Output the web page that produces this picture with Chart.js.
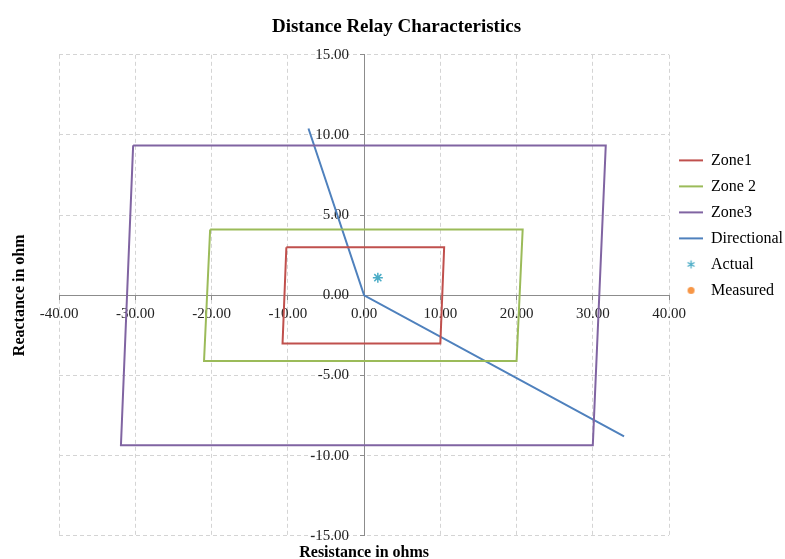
<!DOCTYPE html>
<html>
<head>
<meta charset="utf-8">
<script src="https://cdn.jsdelivr.net/npm/chart.js@4.4.0/dist/chart.umd.min.js"></script>
<style>
  body { margin: 0; background: #fff; }
</style>
</head>
<body>
<canvas id="myChart" width="785" height="559"></canvas>
<script>
// resistance (R) / reactance (X) pairs, ohms
var zone1R = [-10.2, 10.5, 10.0, -10.7, -10.2];
var zone1X = [3.0, 3.0, -3.0, -3.0, 3.0];
var zone2R = [-20.2, 20.8, 20.0, -21.0, -20.2];
var zone2X = [4.1, 4.1, -4.1, -4.1, 4.1];
var zone3R = [-30.3, 31.7, 30.0, -31.9, -30.3];
var zone3X = [9.35, 9.35, -9.35, -9.35, 9.35];
var dirR = [-7.3, 0, 34.1];
var dirX = [10.4, 0, -8.8];
var actualR = [1.8];
var actualX = [1.1];
var measuredR = [];
var measuredX = [];

var xTicks = [-40, -30, -20, -10, 0, 10, 20, 30, 40];
var yTicks = [-15, -10, -5, 0, 5, 10, 15];

function pts(r, x) {
    return r.map(function (v, i) { return {x: v, y: x[i]}; });
}

// legend marker images for the point series
function marker(kind, color) {
    var c = document.createElement('canvas');
    c.width = 11; c.height = 11;
    var g = c.getContext('2d');
    if (kind == 'dot') {
        g.fillStyle = color;
        g.beginPath(); g.arc(5.5, 5.5, 3.5, 0, Math.PI * 2); g.fill();
    } else {
        g.strokeStyle = color; g.lineWidth = 1.3;
        g.beginPath();
        g.moveTo(5.5, 1.5); g.lineTo(5.5, 9.5);
        g.moveTo(2, 3.5); g.lineTo(9, 7.5);
        g.moveTo(2, 7.5); g.lineTo(9, 3.5);
        g.stroke();
    }
    return c;
}

Chart.defaults.font.family = "'Liberation Serif', 'Times New Roman', serif";
Chart.defaults.color = '#222';

var lineSet = function (label, data, color) {
    return {label: label, data: data, borderColor: color, backgroundColor: color,
        showLine: true, fill: false, pointRadius: 0, borderWidth: 2, tension: 0,
        legendStyle: 'line'};
};

var datasets = [
    lineSet('Zone1', pts(zone1R, zone1X), '#C0504D'),
    lineSet('Zone 2', pts(zone2R, zone2X), '#9BBB59'),
    lineSet('Zone3', pts(zone3R, zone3X), '#8064A2'),
    lineSet('Directional', pts(dirR, dirX), '#4F81BD'),
    {label: 'Actual', data: pts(actualR, actualX), borderColor: '#4BACC6', backgroundColor: '#4BACC6',
        pointStyle: 'star', pointRadius: 5, borderWidth: 1.5, showLine: false,
        legendStyle: marker('star', '#4BACC6')},
    {label: 'Measured', data: pts(measuredR, measuredX), borderColor: '#F79646', backgroundColor: '#F79646',
        pointStyle: 'circle', pointRadius: 4, showLine: false,
        legendStyle: marker('dot', '#F79646')}
];

var gridColor = '#d4d4d4';
var axisColor = '#8c8c8c';
var tickFont = {size: 15};

new Chart("myChart", {
    type: "scatter",
    data: {datasets: datasets},
    options: {
        responsive: false,
        animation: false,
        layout: {padding: {left: 0, right: -8, top: 0, bottom: -3}},
        plugins: {
            title: {
                display: true,
                text: 'Distance Relay Characteristics',
                color: '#000',
                font: {size: 19, weight: 'bold'},
                padding: {top: 15.5, bottom: 16.5}
            },
            legend: {
                position: 'right',
                align: 'start',
                title: {display: true, text: '', padding: {top: 128, bottom: 0}},
                labels: {
                    usePointStyle: true,
                    pointStyleWidth: 24,
                    boxHeight: 8,
                    padding: 10,
                    color: '#000',
                    font: {size: 16},
                    generateLabels: function (chart) {
                        return chart.data.datasets.map(function (ds, i) {
                            return {text: ds.label, fillStyle: ds.backgroundColor, strokeStyle: ds.borderColor,
                                lineWidth: 2, pointStyle: ds.legendStyle, hidden: false, datasetIndex: i,
                                fontColor: '#000'};
                        });
                    }
                }
            },
            tooltip: {enabled: false}
        },
        scales: {
            // outer scales: dashed grid and axis titles
            x: {
                type: 'linear', position: 'bottom', min: -40, max: 40,
                afterBuildTicks: function (s) { s.ticks = xTicks.map(function (v) { return {value: v}; }); },
                ticks: {display: false},
                grid: {color: gridColor, drawTicks: false},
                border: {display: false, dash: [4, 3]},
                title: {display: true, text: 'Resistance in ohms', color: '#000',
                    font: {size: 16, weight: 'bold'}, padding: {top: 7, bottom: 0}}
            },
            y: {
                type: 'linear', position: 'left', min: -15, max: 15,
                afterBuildTicks: function (s) { s.ticks = yTicks.map(function (v) { return {value: v}; }); },
                ticks: {display: false},
                grid: {color: gridColor, drawTicks: false},
                border: {display: false, dash: [4, 3]},
                title: {display: true, text: 'Reactance in ohm', color: '#000',
                    font: {size: 16, weight: 'bold'}, padding: {top: 10, bottom: 30}}
            },
            // axes crossing at zero, with the tick labels
            xc: {
                type: 'linear', position: {y: 0}, min: -40, max: 40,
                afterBuildTicks: function (s) { s.ticks = xTicks.map(function (v) { return {value: v}; }); },
                ticks: {font: tickFont, color: '#222', autoSkip: false, maxRotation: 0, padding: 6,
                    callback: function (v) { return v.toFixed(2); }},
                grid: {drawOnChartArea: false, color: axisColor, tickLength: 4},
                border: {color: axisColor, width: 1}
            },
            yc: {
                type: 'linear', position: {x: 0}, min: -15, max: 15,
                afterBuildTicks: function (s) { s.ticks = yTicks.map(function (v) { return {value: v}; }); },
                ticks: {font: tickFont, color: '#222', autoSkip: false,
                    callback: function (v) { return v.toFixed(2) + '\u2002\u2002'; }},
                grid: {drawOnChartArea: false, color: axisColor, tickLength: 4},
                border: {color: axisColor, width: 1}
            }
        }
    }
});
</script>
</body>
</html>
